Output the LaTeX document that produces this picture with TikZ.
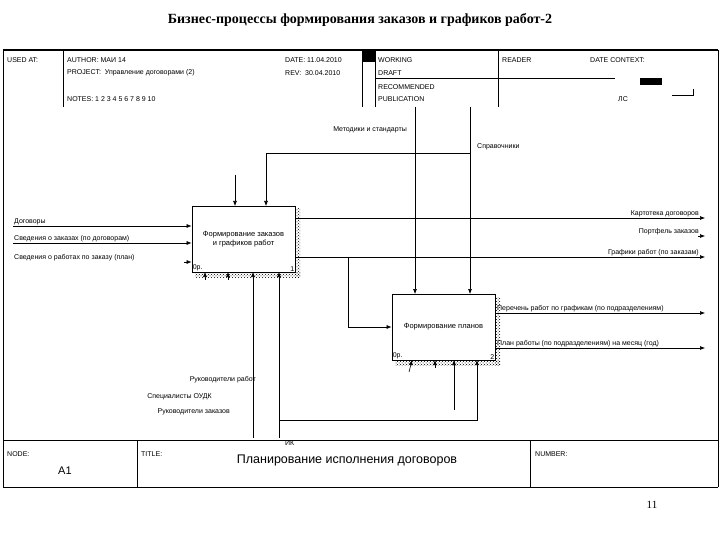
\documentclass[tikz,border=0pt]{standalone}
\usepackage{fontspec}
\setmainfont{Liberation Serif}
\newfontfamily\myss{Liberation Sans}
\usetikzlibrary{arrows.meta,patterns}
\begin{document}
\begin{tikzpicture}[x=1pt,y=-1pt,
 lab/.style={font=\myss\fontsize{7}{8}\selectfont,inner sep=1pt},
 hd/.style={font=\myss\fontsize{7}{8}\selectfont,inner sep=0pt,anchor=west},
 proc/.style={draw,line width=0.8pt,minimum width=103pt,minimum height=66pt,align=center,font=\myss\fontsize{7.5}{9}\selectfont,fill=white},
 arr/.style={-{Latex[length=5pt,width=4pt]},line width=0.6pt},
 ln/.style={line width=0.6pt}]
\useasboundingbox (0,0) rectangle (720,540);
\node[font=\bfseries\fontsize{14}{16}\selectfont] (title) at (360,20) {Бизнес-процессы формирования заказов и графиков работ-2};
% frame
\draw[line width=1.2pt] (3,50) -- (718,50);
\draw[ln] (3,50) -- (3,487) -- (718,487);
\draw[ln] (718,50) -- (718,487);
\draw[ln] (63,50) -- (63,107);
\draw[ln] (362,50) -- (362,107);
\draw[ln] (375,50) -- (375,107);
\draw[ln] (498,50) -- (498,107);
\fill (362,50) rectangle (375,62);
\draw[ln] (375,78) -- (615,78);
\fill (640,78) rectangle (662,85);
\draw[ln] (672,95) -- (693,95) -- (693,89);
\node[hd] (h1) at (7,60) {USED AT:};
\node[hd] (h2) at (67,60) {AUTHOR: МАИ 14};
\node[hd] (h3) at (67,73) {PROJECT:\ \ Управление договорами (2)};
\node[hd] (h4) at (67,99) {NOTES:\ 1\ 2\ 3\ 4\ 5\ 6\ 7\ 8\ 9\ 10};
\node[hd] (h5) at (285,60) {DATE:\ 11.04.2010};
\node[hd] (h6) at (285,73) {REV:\ \ 30.04.2010};
\node[hd] (h7) at (378,60) {WORKING};
\node[hd] (h8) at (378,73) {DRAFT};
\node[hd] (h9) at (378,87) {RECOMMENDED};
\node[hd] (h10) at (378,99) {PUBLICATION};
\node[hd] (h11) at (502,60) {READER};
\node[hd] (h12) at (590,60) {DATE\ CONTEXT:};
\node[hd] (h13) at (618,99) {ЛС};
% bottom
\draw[ln] (3,440) -- (718,440);
\draw[ln] (137,440) -- (137,487);
\draw[ln] (530,440) -- (530,487);
\node[hd] (n1) at (7,454) {NODE:};
\node[hd,font=\myss\fontsize{11}{12}\selectfont] (n2) at (58,471) {A1};
\node[hd] (n3) at (141,454) {TITLE:};
\node[hd] (n4) at (535,454) {NUMBER:};
\node[font=\myss\fontsize{12.5}{14}\selectfont] (n5) at (347,460) {Планирование исполнения договоров};
\node[font=\fontsize{11}{12}\selectfont] (pg) at (652,505) {11};
% boxes with shadows
\fill[pattern=crosshatch dots] (295,209) rectangle (300,277);
\fill[pattern=crosshatch dots] (195,272) rectangle (300,277);
\fill[pattern=crosshatch dots] (495,297) rectangle (500,365);
\fill[pattern=crosshatch dots] (395,360) rectangle (500,365);
\node[proc] (b1) at (243.5,239) {Формирование заказов\\и графиков работ};
\node[proc] (b2) at (443.5,327) {Формирование планов};
\node[lab,anchor=south west] at (b1.south west) {0р.};
\node[lab,anchor=south east] at (b1.south east) {1};
\node[lab,anchor=south west] at (b2.south west) {0р.};
\node[lab,anchor=south east] at (b2.south east) {2};
% inputs
\coordinate (i1) at (13,226); \coordinate (i2) at (13,243); \coordinate (i3) at (184,262);
\draw[arr] (i1) -- (b1.west |- i1);
\draw[arr] (i2) -- (b1.west |- i2);
\draw[arr] (i3) -- (b1.west |- i3);
\node[lab,anchor=south west] at (13,226) {Договоры};
\node[lab,anchor=south west] at (13,243) {Сведения о заказах (по договорам)};
\node[lab,anchor=south west] at (13,262) {Сведения о работах по заказу (план)};
% controls
\coordinate (c1) at (235,175);
\draw[arr] (c1) -- (235,206);
\coordinate (t1) at (415,107); \coordinate (t2) at (470,107);
\draw[arr] (t1) -- (415,294);
\draw[arr] (t2) -- (470,294);
\draw[arr] (470,153) -- (266,153) -- (266,206);
\node[lab,anchor=east] at (408,130) {Методики и стандарты};
\node[lab,anchor=west] at (476,147) {Справочники};
% outputs box1
\coordinate (o1) at (705,218); \coordinate (o2) at (705,236); \coordinate (o3) at (705,257);
\draw[arr] (295,218) -- (o1);
\draw[arr] (698,236) -- (o2);
\draw[arr] (295,257) -- (o3);
\node[lab,anchor=south east] at (700,218) {Картотека договоров};
\node[lab,anchor=south east] at (700,236) {Портфель заказов};
\node[lab,anchor=south east] at (700,257) {Графики работ (по заказам)};
\draw[arr] (348,257) -- (348,327) -- (b2.west);
% outputs box2
\coordinate (o4) at (705,313); \coordinate (o5) at (705,348);
\draw[arr] (495,313) -- (o4);
\draw[arr] (495,348) -- (o5);
\node[lab,anchor=south west] at (496,313) {Перечень работ по графикам (по подразделениям)};
\node[lab,anchor=south west] at (496,348) {План работы (по подразделениям) на месяц (год)};
% mechanisms
\draw[arr] (205,280) -- (205,272);
\draw[arr] (228,280) -- (228,272);
\coordinate (m1) at (253,438); \coordinate (m2) at (279,438);
\draw[arr] (m1) -- (253,272);
\draw[arr] (m2) -- (279,272);
\draw[arr] (279,420) -- (477,420) -- (477,360);
\draw[arr] (454,410) -- (454,360);
\draw[arr] (409,372) -- (412,360);
\draw[arr] (435,368) -- (435,360);
\node[lab,anchor=east] at (257,380) {Руководители работ};
\node[lab,anchor=east] at (213,397) {Специалисты ОУДК};
\node[lab,anchor=east] at (231,412) {Руководители заказов};
\node[lab,anchor=west] at (284,443) {ИК};
\end{tikzpicture}
\end{document}
